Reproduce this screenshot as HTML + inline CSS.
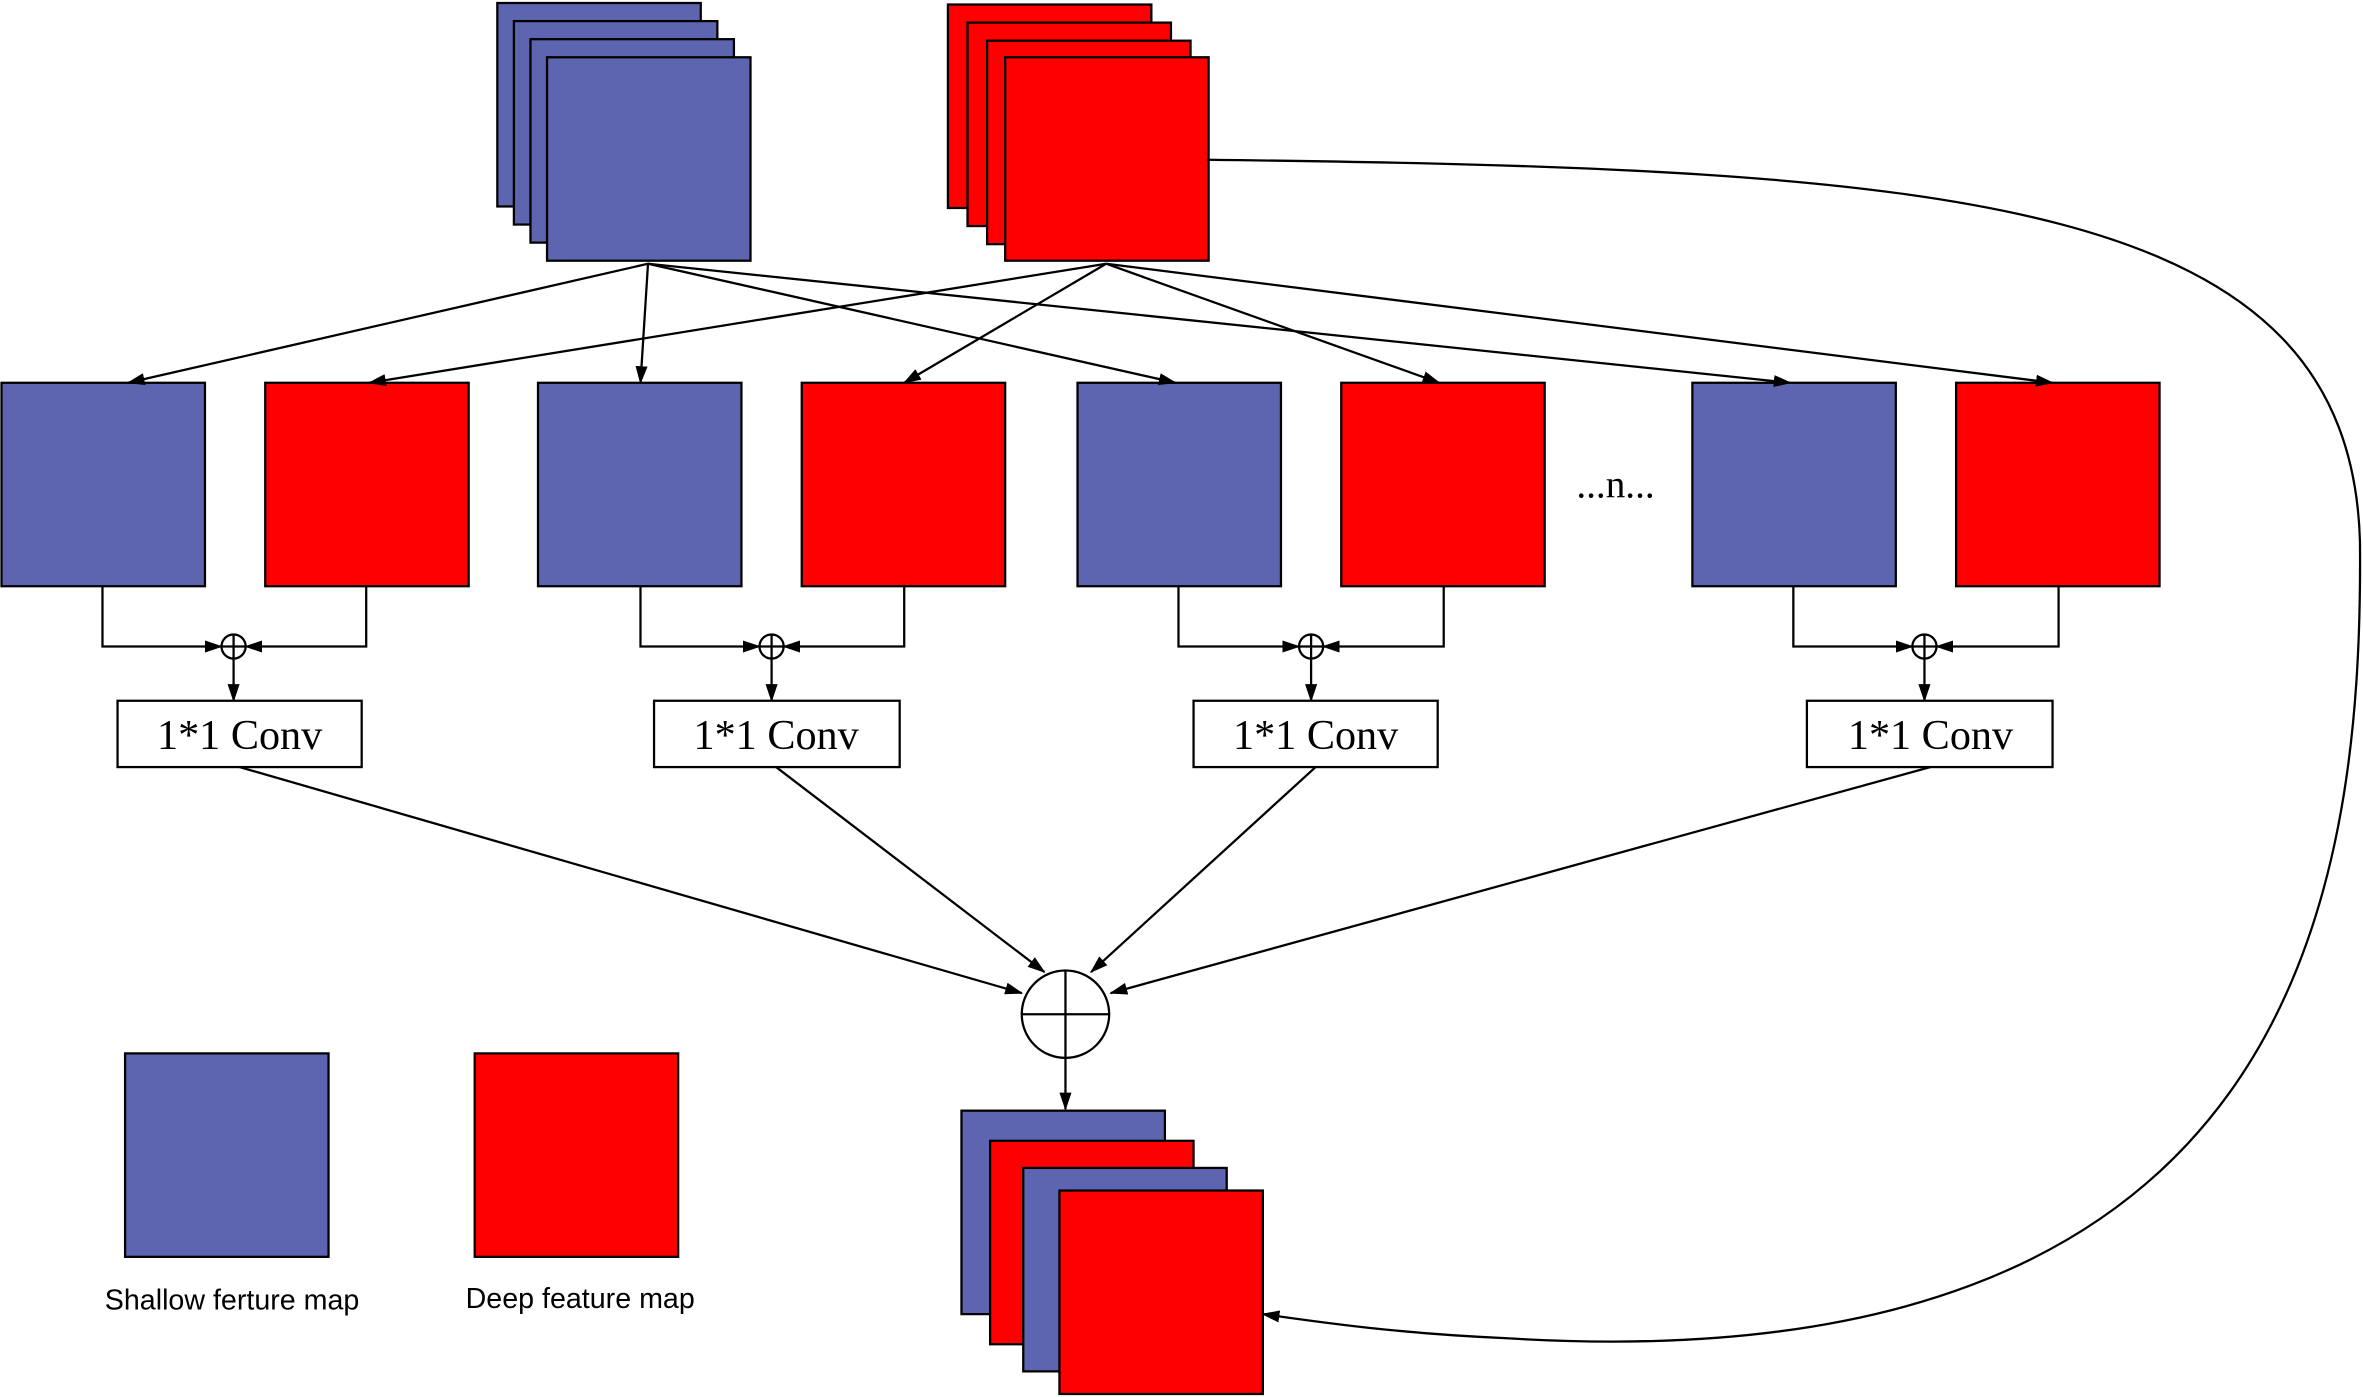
<!DOCTYPE html>
<html><head><meta charset="utf-8"><style>html,body{margin:0;padding:0;background:#fff}svg{display:block}</style></head>
<body>
<svg width="2363" height="1397" viewBox="0 0 1568 927" xmlns="http://www.w3.org/2000/svg">
<defs><marker id="a" markerWidth="12" markerHeight="8" refX="11" refY="4" orient="auto" markerUnits="userSpaceOnUse"><path d="M0,0 L12,4 L0,8 z" fill="#000"/></marker></defs>
<g stroke="#000" stroke-width="1.5">
<rect x="330" y="2" width="135" height="135" fill="#5d65b0"/>
<rect x="341" y="14" width="135" height="135" fill="#5d65b0"/>
<rect x="352" y="26" width="135" height="135" fill="#5d65b0"/>
<rect x="363" y="38" width="135" height="135" fill="#5d65b0"/>
<rect x="629" y="3" width="135" height="135" fill="#ff0000"/>
<rect x="642" y="15" width="135" height="135" fill="#ff0000"/>
<rect x="655" y="27" width="135" height="135" fill="#ff0000"/>
<rect x="667" y="38" width="135" height="135" fill="#ff0000"/>
<rect x="1" y="254" width="135" height="135" fill="#5d65b0"/>
<rect x="176" y="254" width="135" height="135" fill="#ff0000"/>
<rect x="357" y="254" width="135" height="135" fill="#5d65b0"/>
<rect x="532" y="254" width="135" height="135" fill="#ff0000"/>
<rect x="715" y="254" width="135" height="135" fill="#5d65b0"/>
<rect x="890" y="254" width="135" height="135" fill="#ff0000"/>
<rect x="1123" y="254" width="135" height="135" fill="#5d65b0"/>
<rect x="1298" y="254" width="135" height="135" fill="#ff0000"/>
<rect x="83" y="699" width="135" height="135" fill="#5d65b0"/>
<rect x="315" y="699" width="135" height="135" fill="#ff0000"/>
<rect x="638" y="737" width="135" height="135" fill="#5d65b0"/>
<rect x="657" y="757" width="135" height="135" fill="#ff0000"/>
<rect x="679" y="775" width="135" height="135" fill="#5d65b0"/>
<rect x="703" y="790" width="135" height="135" fill="#ff0000"/>
</g>
<g stroke="#000" stroke-width="1.5" fill="none" marker-end="url(#a)">
<line x1="430" y1="175" x2="85" y2="254"/>
<line x1="430" y1="175" x2="425" y2="254"/>
<line x1="430" y1="175" x2="780" y2="254"/>
<line x1="430" y1="175" x2="1188" y2="254"/>
<line x1="734" y1="175" x2="245" y2="254"/>
<line x1="734" y1="175" x2="600" y2="254"/>
<line x1="734" y1="175" x2="955" y2="254"/>
<line x1="734" y1="175" x2="1362" y2="254"/>
<path d="M68,389 V429 H147"/><path d="M243,389 V429 H163"/><line x1="155" y1="437" x2="155" y2="465"/>
<path d="M425,389 V429 H504"/><path d="M600,389 V429 H520"/><line x1="512" y1="437" x2="512" y2="465"/>
<path d="M782,389 V429 H862"/><path d="M958,389 V429 H878"/><line x1="870" y1="437" x2="870" y2="465"/>
<path d="M1190,389 V429 H1269"/><path d="M1366,389 V429 H1285"/><line x1="1277" y1="437" x2="1277" y2="465"/>
<line x1="159" y1="509" x2="678" y2="659"/>
<line x1="515" y1="509" x2="693" y2="645"/>
<line x1="873" y1="509" x2="724" y2="645"/>
<line x1="1281" y1="509" x2="737" y2="659"/>
<line x1="707" y1="702" x2="707" y2="736"/>
<path d="M801,106 C1300,112 1560,130 1566,360 C1568,600 1520,920 1000,888 C930,885 880,878 838,872"/>
</g>
<g stroke="#000" stroke-width="1.5" fill="#fff">
<circle cx="155" cy="429" r="8"/><circle cx="512" cy="429" r="8"/><circle cx="870" cy="429" r="8"/><circle cx="1277" cy="429" r="8"/>
<path d="M147,429H163M155,421V437M504,429H520M512,421V437M862,429H878M870,421V437M1269,429H1285M1277,421V437"/>
<circle cx="707" cy="673" r="29"/><path d="M678,673H736M707,644V702"/>
<rect x="78" y="465" width="162" height="44"/><rect x="434" y="465" width="163" height="44"/>
<rect x="792" y="465" width="162" height="44"/><rect x="1199" y="465" width="163" height="44"/>
</g>
<g font-family="Liberation Serif, serif" font-size="28" text-anchor="middle">
<text x="159" y="497">1*1 Conv</text><text x="515" y="497">1*1 Conv</text>
<text x="873" y="497">1*1 Conv</text><text x="1281" y="497">1*1 Conv</text>
<text x="1072" y="330" font-size="26">...n...</text>
</g>
<g font-family="Liberation Sans, sans-serif" font-size="19" text-anchor="middle">
<text x="154" y="869">Shallow ferture map</text><text x="385" y="868">Deep feature map</text>
</g>
</svg>
</body></html>
